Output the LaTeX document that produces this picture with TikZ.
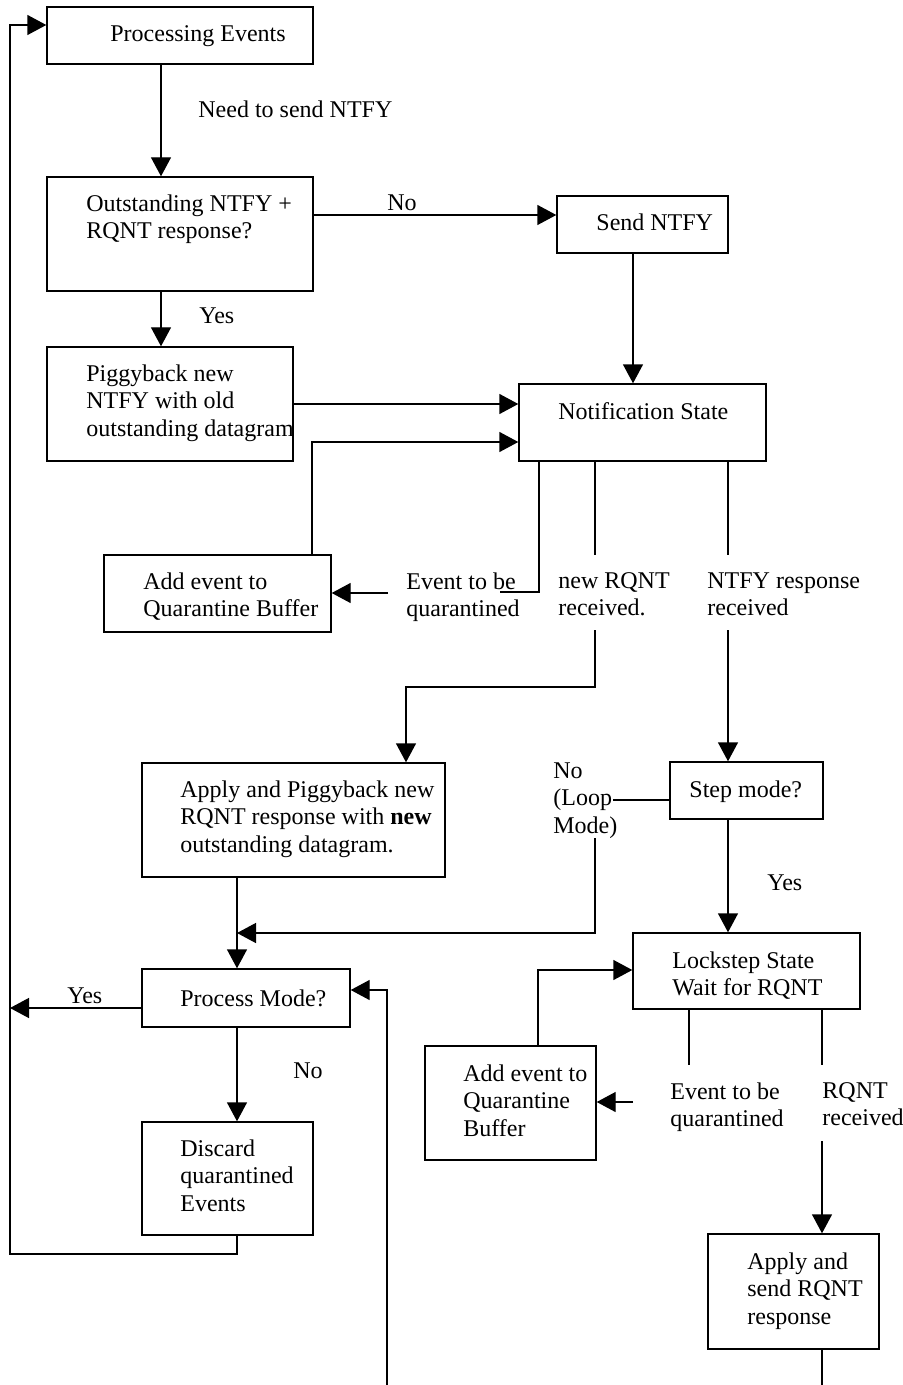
\documentclass[tikz,border=0pt]{standalone}
\usepackage{fontspec}
\setmainfont{Liberation Serif}
\usetikzlibrary{arrows.meta,fit}
\tikzset{
  box/.style={draw, line width=0.7pt, inner sep=0pt, fit={#1}},
  txt/.style={anchor=north west, inner sep=0pt, align=left, font=\fontsize{12pt}{13.8pt}\selectfont},
  ln/.style={line width=0.7pt},
  arr/.style={line width=0.7pt, -{Triangle[width=10pt,length=9.5pt]}}
}
\begin{document}
\begin{tikzpicture}[x=0.5pt,y=-0.5pt]
\useasboundingbox (0,0) rectangle (903,1385);
% boxes
\node[box={(47,7) (313,64)}] (pe) {};
\node[box={(47,177) (313,291)}] (oq) {};
\node[box={(557,196) (728,253)}] (sn) {};
\node[box={(47,347) (293,461)}] (pb) {};
\node[box={(519,384) (766,461)}] (ns) {};
\node[box={(104,555) (331,632)}] (aq) {};
\node[box={(142,763) (445,877)}] (ap) {};
\node[box={(670,762) (823,819)}] (sm) {};
\node[box={(142,969) (350,1027)}] (pm) {};
\node[box={(633,933) (860,1009)}] (ls) {};
\node[box={(425,1046) (596,1160)}] (aqb) {};
\node[box={(142,1122) (313,1235)}] (dq) {};
\node[box={(708,1234) (879,1349)}] (as) {};
% texts
\node[txt] (tpe) at (110,25) {Processing Events};
\node[txt] (tneed) at (198,100) {Need to send NTFY};
\node[txt] (toq) at (86,194) {Outstanding NTFY +\\RQNT response?};
\node[txt] (tno1) at (387,194) {No};
\node[txt] (tyes1) at (199,307) {Yes};
\node[txt] (tsn) at (596,213) {Send NTFY};
\node[txt] (tns) at (558,402) {Notification State};
\node[txt] (tpb) at (86,364) {Piggyback new\\NTFY with old\\outstanding datagram};
\node[txt] (taq) at (143,572) {Add event to\\Quarantine Buffer};
\node[txt] (tev1) at (406,572) {Event to be\\quarantined};
\node[txt] (tnr) at (558,572) {new RQNT\\received.};
\node[txt] (tntr) at (707,572) {NTFY response\\received};
\node[txt] (tsm) at (689,780) {Step mode?};
\node[txt] (tloop) at (553,762) {No\\(Loop\\Mode)};
\node[txt] (tyes2) at (767,874) {Yes};
\node[txt] (tap) at (180,780) {Apply and Piggyback new\\RQNT response with \textbf{new}\\outstanding datagram.};
\node[txt] (tls) at (672,951) {Lockstep State\\Wait for RQNT};
\node[txt] (tyes3) at (67,987) {Yes};
\node[txt] (tpm) at (180,989) {Process Mode?};
\node[txt] (tno2) at (293,1062) {No};
\node[txt] (taqb) at (463,1064) {Add event to\\Quarantine\\Buffer};
\node[txt] (tev2) at (670,1082) {Event to be\\quarantined};
\node[txt] (trr) at (822,1082) {RQNT\\received};
\node[txt] (tdq) at (180,1139) {Discard\\quarantined\\Events};
\node[txt] (tas) at (747,1252) {Apply and\\send RQNT\\response};
% free ends
\coordinate (e1) at (500,592);
\coordinate (s1) at (388,593);
\coordinate (e2) at (595,555);
\coordinate (s2) at (595,630);
\coordinate (e3) at (728,555);
\coordinate (s3) at (728,630);
\coordinate (e4) at (613,800);
\coordinate (s4) at (595,838);
\coordinate (s5) at (387,1385);
\coordinate (s6) at (633,1102);
\coordinate (e7) at (689,1065);
\coordinate (e8) at (822,1065);
\coordinate (s8) at (822,1141);
\coordinate (e9) at (822,1385);
% connectors
\draw[arr] (161,0 |- pe.south) -- (161,0 |- oq.north);
\draw[arr] (oq.east |- 0,215) -- (sn.west |- 0,215);
\draw[arr] (161,0 |- oq.south) -- (161,0 |- pb.north);
\draw[arr] (633,0 |- sn.south) -- (633,0 |- ns.north);
\draw[arr] (pb.east |- 0,404) -- (ns.west |- 0,404);
\draw[arr] (312,0 |- aq.north) -- (312,442) -- (ns.west |- 0,442);
\draw[ln] (539,0 |- ns.south) -- (539,592) -- (e1);
\draw[arr] (s1) -- (aq.east |- s1);
\draw[ln] (595,0 |- ns.south) -- (e2);
\draw[ln] (728,0 |- ns.south) -- (e3);
\draw[arr] (s2) -- (595,687) -- (406,687) -- (406,0 |- ap.north);
\draw[arr] (s3) -- (728,0 |- sm.north);
\draw[ln] (sm.west |- e4) -- (e4);
\draw[arr] (s4) -- (595,933) -- (237,933);
\draw[arr] (237,0 |- ap.south) -- (237,0 |- pm.north);
\draw[arr] (pm.west |- 0,1008) -- (10,1008);
\draw[arr] (s5) -- (387,990) -- (pm.east |- 0,990);
\draw[arr] (237,0 |- pm.south) -- (237,0 |- dq.north);
\draw[arr] (237,0 |- dq.south) -- (237,1254) -- (10,1254) -- (10,25) -- (pe.west |- 0,25);
\draw[arr] (728,0 |- sm.south) -- (728,0 |- ls.north);
\draw[arr] (538,0 |- aqb.north) -- (538,970) -- (ls.west |- 0,970);
\draw[arr] (s6) -- (aqb.east |- s6);
\draw[ln] (689,0 |- ls.south) -- (e7);
\draw[ln] (822,0 |- ls.south) -- (e8);
\draw[arr] (s8) -- (822,0 |- as.north);
\draw[ln] (822,0 |- as.south) -- (e9);
\end{tikzpicture}
\end{document}
